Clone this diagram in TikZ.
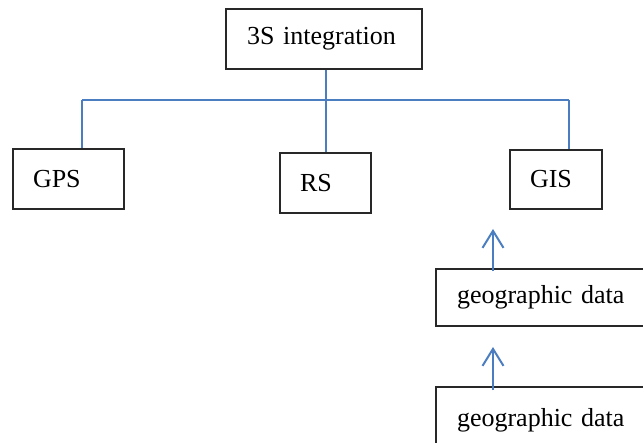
\documentclass[tikz,border=0pt]{standalone}
\usepackage{fontspec}
\setmainfont{Liberation Serif}
\usetikzlibrary{arrows.meta}
\definecolor{linkblue}{RGB}{74,126,193}
\definecolor{boxline}{RGB}{40,40,40}
\tikzset{
  box/.style={draw=boxline, line width=1.4pt, rectangle, inner ysep=0pt,
              align=left, font=\fontsize{26}{30}\selectfont},
  link/.style={draw=linkblue, line width=2pt},
  uparrow/.style={link, -{Straight Barb[length=17pt,width=21pt,line width=2pt]}}
}
\begin{document}
\begin{tikzpicture}[x=1pt,y=-1pt]
  \useasboundingbox (0,0) rectangle (643,443);
  \clip (0,0) rectangle (643,443);

  % hierarchy
  \node[box, inner xsep=21pt, text width=154pt, minimum height=60pt] (top) at (324,39) {3S integration};
  \node[box, inner xsep=20pt, text width=71pt, minimum height=60pt] (gps) at (68.5,179) {GPS};
  \node[box, inner xsep=20pt, text width=51pt, minimum height=60pt] (rs) at (325.5,183) {RS};
  \node[box, inner xsep=20pt, text width=52pt, minimum height=59pt] (gis) at (556,179.5) {GIS};

  % data sources feeding GIS
  \node[box, inner xsep=21pt, text width=200pt, minimum height=57pt] (geoA) at (557,297.5) {geographic data};
  \node[box, inner xsep=21pt, text width=200pt, minimum height=66pt] (geoB) at (557,420) {geographic data};

  % bus connecting the three systems
  \coordinate (busL) at (82,100);
  \coordinate (busR) at (569,100);
  \draw[link] (busL) -- (busR);
  \draw[link] (top.south -| rs.north) -- (rs.north);
  \draw[link] (busL) -- (busL |- gps.north);
  \draw[link] (busR) -- (busR |- gis.north);

  % upward flow arrows
  \coordinate (tipA) at (493,229);
  \coordinate (tipB) at (493,347);
  \draw[uparrow] ([yshift=-3pt]tipA |- geoA.north) -- (tipA);
  \draw[uparrow] ([yshift=-4pt]tipB |- geoB.north) -- (tipB);
\end{tikzpicture}
\end{document}
